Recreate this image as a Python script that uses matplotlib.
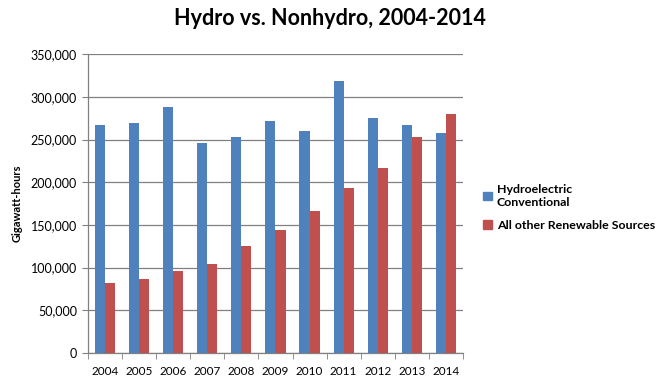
import matplotlib.pyplot as plt
import numpy as np
from matplotlib.ticker import FuncFormatter, FixedLocator
from matplotlib.patches import Patch

years = ["2004", "2005", "2006", "2007", "2008", "2009", "2010", "2011", "2012", "2013", "2014"]
hydro = [267000, 270000, 288000, 246000, 253000, 272000, 260000, 319000, 275000, 267000, 258000]
other = [82000, 87000, 96000, 104000, 125000, 144000, 166000, 193000, 217000, 253000, 280000]

plt.rcParams['font.family'] = ['Lato', 'DejaVu Sans']

fig = plt.figure(figsize=(6.59, 3.84), dpi=100)
ax = fig.add_axes([0.1335, 0.0807, 0.569, 0.778])

x = np.arange(len(years))
w = 0.295
ax.bar(x - w / 2, hydro, w, color="#4F81BD", zorder=3)
ax.bar(x + w / 2, other, w, color="#C0504D", zorder=3)

ax.set_xlim(-0.5, len(years) - 0.5)
ax.set_ylim(0, 350000)
ax.set_yticks(np.arange(0, 350001, 50000))
ax.yaxis.set_major_formatter(FuncFormatter(lambda v, p: f"{int(v):,}"))
ax.yaxis.grid(True, color="#808080", linewidth=0.9, zorder=0)

# category labels, tick marks at boundaries
ax.set_xticks(x)
ax.set_xticklabels(years)
ax.xaxis.set_minor_locator(FixedLocator(np.arange(-0.5, len(years), 1.0)))
ax.tick_params(axis="x", which="major", length=0, labelsize=8.5, pad=9)
ax.tick_params(axis="x", which="minor", length=4, color="#808080", direction="out")
ax.tick_params(axis="y", length=4, color="#808080", labelsize=9, pad=4)

for s in ["top", "right"]:
    ax.spines[s].set_visible(False)
for s in ["left", "bottom"]:
    ax.spines[s].set_color("#808080")
    ax.spines[s].set_linewidth(0.9)

ax.set_ylabel("Gigawatt-hours", fontsize=8, fontweight="bold", labelpad=6)
fig.text(0.5, 0.953, "Hydro vs. Nonhydro, 2004-2014", ha="center", va="center",
         fontsize=15.5, fontweight="bold")

handles = [Patch(color="#4F81BD"), Patch(color="#C0504D")]
fig.legend(handles, ["Hydroelectric\nConventional", "All other Renewable Sources"],
           loc="center left", bbox_to_anchor=(0.716, 0.46), frameon=False,
           handlelength=0.7, handleheight=0.7, handletextpad=0.4,
           labelspacing=1.0, prop={"weight": "bold", "size": 8.9})

fig.savefig("out.png", dpi=100)
plt.close(fig)
